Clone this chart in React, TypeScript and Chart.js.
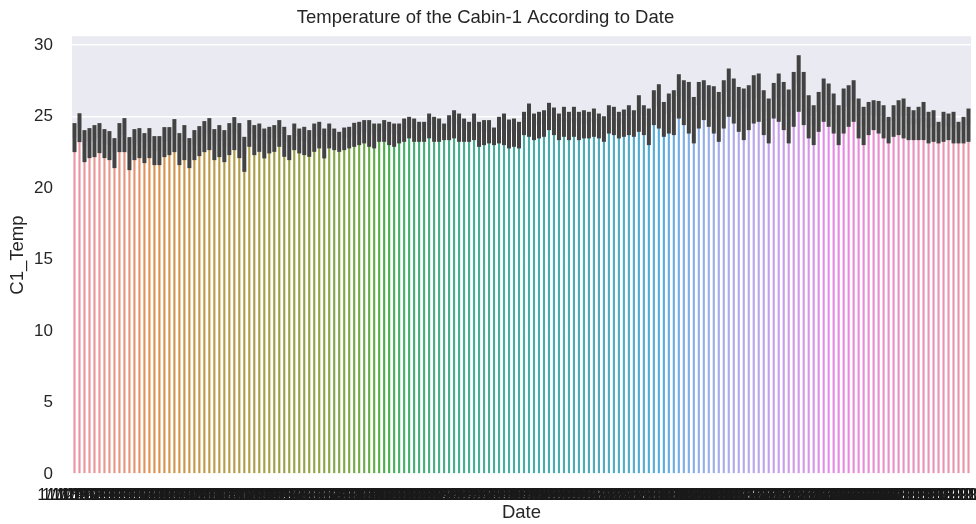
import React, { useEffect, useRef } from "react";
import { Chart, registerables } from "chart.js";
Chart.register(...registerables);

// Daily mean of C1_Temp (bar heights)
const MEANS: number[] = [
  23.5, 24.2, 22.9, 23.2, 23.3, 23.5, 23.1, 23.0, 22.5, 23.5, 23.7, 22.4, 23.0, 23.2, 22.8, 23.2, 22.6, 22.6, 23.2, 23.3,
  23.7, 22.7, 23.2, 22.5, 23.0, 23.3, 23.6, 23.8, 23.0, 23.3, 22.9, 23.4, 23.8, 23.3,
  22.4, 23.8, 23.4, 23.5, 23.1, 23.4, 23.5, 23.8, 23.2, 22.8, 23.6, 23.3, 23.3, 23.1, 23.5, 23.7, 23.1, 23.6, 23.4, 23.2,
  23.5, 23.5, 23.7, 23.8, 23.9, 23.8, 23.6, 23.9, 24.0, 23.8, 23.7, 23.8, 24.1, 24.2, 24.1, 23.9, 23.9, 24.4, 24.1, 24.1,
  23.9, 24.2, 24.5, 24.2, 24.1, 23.9, 24.3, 23.8, 23.9,
  23.9, 23.6, 24.1, 24.1, 23.8, 23.9, 23.7, 24.5, 24.8, 24.3, 24.4, 24.5, 25.0, 24.7, 24.3, 24.6, 24.4, 24.6, 24.4, 24.5,
  24.4, 24.6, 24.4, 24.1, 24.8, 24.7, 24.4, 24.5, 24.8, 24.5, 25.2, 24.8, 24.3, 25.6, 25.7, 24.8, 25.2, 25.3, 26.4, 26.0,
  25.6, 24.8, 25.8, 26.2, 25.7, 25.5, 25.0,
  25.9, 26.7, 26.1, 25.5, 25.2, 25.6, 26.2, 26.3, 25.3, 24.7, 26.1, 26.3, 25.7, 25.0, 26.2, 27.3, 26.3, 25.0, 24.4, 25.3,
  26.2, 25.8, 25.2, 24.4, 25.4, 25.7, 26.1, 24.9, 24.3, 24.9, 25.1, 25.0, 24.6, 24.1, 24.7, 24.9, 24.9, 24.5, 24.4, 24.5,
  24.7, 24.2, 24.3, 23.9, 24.3, 24.3, 24.2, 23.9, 24.1, 24.4,
];

// Upper bound of the confidence interval
const CI_HIGH: number[] = [
  24.55, 25.24, 24.06, 24.2, 24.41, 24.55, 24.13, 23.99, 23.5, 24.55, 24.9, 23.57, 24.13, 24.2, 23.85, 24.2, 23.64, 23.64,
  24.27, 24.27, 24.83, 23.85, 24.41, 23.5, 24.06, 24.34, 24.69, 24.9, 24.13, 24.41, 24.06, 24.55, 24.97, 24.55,
  23.59, 24.76, 24.41, 24.52, 24.17, 24.29, 24.41, 24.76, 24.29, 23.71, 24.52, 24.17, 24.29, 24.06, 24.52, 24.64, 24.17,
  24.52, 24.17, 23.94, 24.24, 24.29, 24.57, 24.64, 24.76, 24.76, 24.52, 24.52, 24.76, 24.64, 24.52, 24.52, 24.87, 24.99,
  24.87, 24.64, 24.64, 25.22, 24.99, 24.87, 24.52, 25.1, 25.45, 25.22, 24.87, 24.64, 25.22, 24.64, 24.76,
  24.76, 24.24, 24.99, 25.22, 24.8, 24.87, 24.64, 25.34, 25.92, 25.22, 25.34, 25.45, 25.97, 25.64, 25.22, 25.69, 25.34,
  25.69, 25.34, 25.45, 25.34, 25.57, 25.22, 25.03, 25.8, 25.69, 25.34, 25.5, 25.8, 25.45, 26.5, 25.8, 25.57, 26.85, 27.27,
  26.03, 26.62, 26.85, 27.97, 27.55, 27.43, 26.38, 27.43, 27.55, 27.2, 27.13, 26.73,
  27.55, 28.37, 27.67, 27.08, 26.97, 27.2, 27.9, 28.02, 26.85, 26.27, 27.36, 28.02, 27.43, 26.9, 28.13, 29.3, 28.13, 26.5,
  25.8, 26.73, 27.67, 27.32, 26.62, 25.8, 26.97, 27.2, 27.55, 26.27, 25.69, 26.03, 26.15, 26.1, 25.8, 24.99, 25.8, 26.15,
  26.27, 25.69, 25.45, 25.69, 26.03, 25.34, 25.45, 24.64, 25.34, 25.22, 25.34, 24.64, 24.99, 25.57,
];

// Lower bound of the confidence interval
const CI_LOW: number[] = [
  22.52, 23.22, 21.82, 22.1, 22.17, 22.45, 22.1, 21.96, 21.4, 22.52, 22.52, 21.26, 21.96, 22.1, 21.75, 22.1, 21.61, 21.61,
  22.17, 22.31, 22.52, 21.61, 21.96, 21.4, 21.96, 22.24, 22.52, 22.66, 21.96, 22.17, 21.82, 22.31, 22.66, 22.1,
  21.14, 22.89, 22.31, 22.54, 22.08, 22.43, 22.54, 22.89, 22.19, 21.96, 22.66, 22.43, 22.31, 22.19, 22.54, 22.78, 22.08,
  22.78, 22.66, 22.54, 22.66, 22.78, 22.89, 23.01, 23.13, 22.89, 22.78, 23.24, 23.24, 23.01, 22.89, 23.13, 23.24, 23.48,
  23.24, 23.24, 23.24, 23.48, 23.24, 23.24, 23.36, 23.36, 23.48, 23.24, 23.24, 23.24, 23.36, 22.89, 23.01,
  23.13, 23.01, 23.13, 23.01, 22.78, 22.89, 22.78, 23.71, 23.59, 23.36, 23.48, 23.59, 24.06, 23.71, 23.36, 23.59, 23.36,
  23.59, 23.36, 23.48, 23.48, 23.59, 23.48, 23.24, 23.82, 23.71, 23.48, 23.59, 23.71, 23.59, 23.94, 23.71, 23.01, 24.41,
  24.17, 23.59, 23.82, 23.71, 24.87, 24.41, 23.82, 23.13, 24.17, 24.76, 24.29, 23.82, 23.24,
  24.17, 24.99, 24.52, 23.94, 23.36, 24.06, 24.52, 24.64, 23.71, 23.13, 24.87, 24.64, 24.06, 23.13, 24.29, 25.34, 24.41,
  23.48, 23.01, 23.94, 24.64, 24.29, 23.82, 23.01, 23.82, 24.29, 24.64, 23.48, 23.01, 23.71, 24.06, 23.82, 23.48, 23.13,
  23.59, 23.71, 23.48, 23.36, 23.36, 23.36, 23.36, 23.13, 23.24, 23.13, 23.24, 23.36, 23.13, 23.13, 23.13, 23.24,
];

const FIRST_DAY = { year: 2021, month: 1, day: 11 };
const DATES: string[] = MEANS.map((_, i) => {
  const d = new Date(FIRST_DAY.year, FIRST_DAY.month - 1, FIRST_DAY.day + i);
  return `${d.getMonth() + 1}/${d.getDate()}/${d.getFullYear()}`;
});

const Y_TICKS = [0, 5, 10, 15, 20, 25, 30];
const TITLE = "Temperature of the Cabin-1 According to Date";
const X_LABEL = "Date";
const Y_LABEL = "C1_Temp";

// ---- seaborn-like husl palette ----
const HM = [
  [3.2406, -1.5372, -0.4986],
  [-0.9689, 1.8758, 0.0415],
  [0.0557, -0.204, 1.057],
];
function maxChroma(L: number, H: number) {
  const hrad = (H / 360) * 2 * Math.PI;
  const sinH = Math.sin(hrad), cosH = Math.cos(hrad);
  const sub1 = Math.pow(L + 16, 3) / 1560896;
  const sub2 = sub1 > 0.008856 ? sub1 : L / 903.3;
  let result = Infinity;
  for (const [m1, m2, m3] of HM) {
    const top = (0.99915 * m1 + 1.05122 * m2 + 1.1446 * m3) * sub2;
    const rb = 0.8633 * m3 - 0.17266 * m2;
    const lb = 0.12949 * m3 - 0.38848 * m1;
    const bottom = (rb * sinH + lb * cosH) * sub2;
    for (const t of [0, 1]) {
      const C = (L * (top - 1.05122 * t)) / (bottom + 0.17266 * sinH * t);
      if (C > 0 && C < result) result = C;
    }
  }
  return result;
}
function huslToRgb(h: number, s: number, l: number): number[] {
  const C = (maxChroma(l, h) / 100) * s;
  const hr = (h * Math.PI) / 180;
  const U = Math.cos(hr) * C, V = Math.sin(hr) * C;
  const t = (l + 16) / 116;
  const varY = Math.pow(t, 3) > 0.008856 ? Math.pow(t, 3) : (116 * t - 16) / 903.3;
  const varU = U / (13 * l) + 0.19784;
  const varV = V / (13 * l) + 0.46834;
  const Y = varY;
  const X = 0 - (9 * Y * varU) / ((varU - 4) * varV - varU * varV);
  const Z = (9 * Y - 15 * varV * Y - varV * X) / (3 * varV);
  return HM.map((r) => {
    const c = r[0] * X + r[1] * Y + r[2] * Z;
    const v = c <= 0.0031308 ? 12.92 * c : 1.055 * Math.pow(c, 1 / 2.4) - 0.055;
    return Math.min(1, Math.max(0, v));
  });
}
function desaturate([r, g, b]: number[], prop: number): number[] {
  const maxc = Math.max(r, g, b), minc = Math.min(r, g, b);
  const l = (maxc + minc) / 2;
  if (maxc === minc) return [r, g, b];
  const rng = maxc - minc;
  let s = l <= 0.5 ? rng / (maxc + minc) : rng / (2 - maxc - minc);
  const rc = (maxc - r) / rng, gc = (maxc - g) / rng, bc = (maxc - b) / rng;
  let h = r === maxc ? bc - gc : g === maxc ? 2 + rc - bc : 4 + gc - rc;
  h = (((h / 6) % 1) + 1) % 1;
  s *= prop;
  const m2 = l <= 0.5 ? l * (1 + s) : l + s - l * s;
  const m1 = 2 * l - m2;
  const v = (hue: number) => {
    hue = ((hue % 1) + 1) % 1;
    if (hue < 1 / 6) return m1 + (m2 - m1) * hue * 6;
    if (hue < 0.5) return m2;
    if (hue < 2 / 3) return m1 + (m2 - m1) * (2 / 3 - hue) * 6;
    return m1;
  };
  return [v(h + 1 / 3), v(h), v(h - 1 / 3)];
}
function palette(n: number): string[] {
  const out: string[] = [];
  for (let i = 0; i < n; i++) {
    const hue = (((i / n) + 0.01) % 1) * 359;
    const rgb = desaturate(huslToRgb(hue, 0.9 * 99, 0.7 * 99), 0.75);
    out.push(`rgb(${rgb.map((c) => Math.round(c * 255)).join(",")})`);
  }
  return out;
}

const FONT = "'Liberation Sans', Arial, Helvetica, sans-serif";
const TEXT = "#262626";

export default function App() {
  const ref = useRef<HTMLCanvasElement | null>(null);
  useEffect(() => {
    if (!ref.current) return;
    const colors = palette(MEANS.length);
    const bgPlugin = {
      id: "bg",
      beforeDraw(chart: any) {
        const { ctx, chartArea: a } = chart;
        ctx.save();
        ctx.fillStyle = "#EAEAF2";
        ctx.fillRect(a.left, a.top, a.right - a.left, a.bottom - a.top);
        ctx.restore();
      },
    };
    const errPlugin = {
      id: "err",
      afterDatasetsDraw(chart: any) {
        const { ctx } = chart;
        const meta = chart.getDatasetMeta(0);
        const ys = chart.scales.y;
        ctx.save();
        ctx.strokeStyle = "#424242";
        ctx.lineWidth = 4;
        ctx.lineCap = "butt";
        meta.data.forEach((bar: any, i: number) => {
          ctx.beginPath();
          ctx.moveTo(bar.x, ys.getPixelForValue(CI_LOW[i]));
          ctx.lineTo(bar.x, ys.getPixelForValue(CI_HIGH[i]));
          ctx.stroke();
        });
        ctx.restore();
      },
    };
    const chart = new Chart(ref.current, {
      type: "bar",
      data: {
        labels: DATES,
        datasets: [
          {
            data: MEANS,
            backgroundColor: colors,
            borderColor: "#ffffff",
            borderWidth: 1.75,
            barPercentage: 1,
            categoryPercentage: 1,
          },
        ],
      },
      options: {
        animation: false,
        responsive: false,
        layout: { padding: { left: 0, right: 5, top: 0, bottom: 0 } },
        plugins: {
          legend: { display: false },
          tooltip: { enabled: false },
          title: {
            display: true,
            text: TITLE,
            color: TEXT,
            font: { family: FONT, size: 18.5, weight: "normal" },
            padding: { top: 7, bottom: 7 },
          },
        },
        scales: {
          x: {
            grid: { display: false },
            border: { display: false },
            ticks: {
              autoSkip: false,
              maxRotation: 0,
              minRotation: 0,
              color: "#1a1a1a",
              padding: 3,
              font: { family: FONT, size: 17 },
            },
            title: {
              display: true,
              text: X_LABEL,
              color: TEXT,
              font: { family: FONT, size: 18.5 },
              padding: { top: 0, bottom: 0 },
            },
            afterFit(scale: any) {
              scale.height = 50;
              scale.paddingLeft = 0;
              scale.paddingRight = 0;
            },
          },
          y: {
            min: 0,
            max: 30.63,
            grid: { color: "#ffffff", lineWidth: 1.5, drawTicks: false },
            border: { display: false },
            ticks: {
              stepSize: 5,
              color: TEXT,
              padding: 19,
              font: { family: FONT, size: 17 },
            },
            afterBuildTicks(scale: any) {
              scale.ticks = Y_TICKS.map((v) => ({ value: v }));
            },
            title: {
              display: true,
              text: Y_LABEL,
              color: TEXT,
              font: { family: FONT, size: 18.5 },
              padding: { top: 7, bottom: 0 },
            },
            afterFit(scale: any) {
              scale.width = 72;
              scale.paddingTop = 0;
              scale.paddingBottom = 0;
            },
          },
        },
      } as any,
      plugins: [bgPlugin, errPlugin],
    });
    return () => chart.destroy();
  }, []);
  return (
    <div style={{ position: "absolute", left: 0, top: 0, width: 976, height: 524, background: "#fff" }}>
      <canvas ref={ref} width={976} height={524} style={{ width: 976, height: 524 }} />
    </div>
  );
}
